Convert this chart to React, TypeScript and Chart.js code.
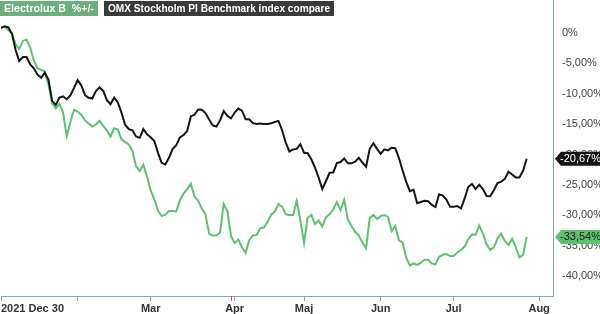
import React, { useEffect, useRef } from "react";
import { Chart, registerables } from "chart.js";
Chart.register(...registerables);

// Trading-day series (index 0 = 2021 Dec 30), % change
const omx = [0.87, 1.12, 0.94, -0.13, -2.8, -4.61, -3.96, -3.95, -5.15, -5.81,
  -6.86, -7.38, -6.53, -7.66, -11.17, -11.84, -10.63, -10.43, -10.89, -10.25,
  -9.03, -7.73, -8.63, -10.23, -10.64, -10.77, -9.56, -8.96, -9.52, -11.05,
  -11.71, -10.63, -11.41, -13.09, -15.08, -15.81, -16.0, -17.02, -17.24, -15.81,
  -16.68, -17.14, -17.76, -19.72, -21.35, -21.63, -20.53, -19.1, -18.47, -17.17,
  -16.79, -16.12, -13.72, -13.45, -12.58, -12.63, -13.17, -14.23, -15.2, -15.39,
  -14.38, -12.85, -13.63, -14.05, -13.08, -12.42, -12.76, -14.19, -14.19, -14.82,
  -14.98, -14.9, -14.97, -14.97, -14.85, -14.65, -14.46, -15.99, -18.03, -19.51,
  -19.16, -19.06, -18.29, -19.69, -19.77, -20.77, -22.12, -23.77, -25.66, -24.38,
  -22.99, -22.94, -21.41, -21.22, -20.64, -21.43, -21.43, -21.15, -20.53, -21.3,
  -21.99, -19.05, -18.14, -19.05, -19.88, -19.13, -19.31, -18.88, -18.95, -20.56,
  -22.62, -24.49, -26.02, -25.81, -27.99, -27.8, -27.6, -27.68, -28.29, -28.63,
  -26.53, -26.74, -27.38, -28.57, -28.57, -28.45, -28.87, -27.2, -25.33, -24.84,
  -25.66, -24.95, -25.66, -26.81, -26.86, -25.86, -24.67, -24.46, -24.0, -22.83,
  -23.27, -23.75, -23.77, -22.66, -20.67];

const electrolux = [0.82, 1.02, 0.49, -0.05, -1.9, -2.6, -1.3, -1.07, -2.4, -4.51,
  -5.79, -6.07, -6.33, -8.45, -11.6, -12.38, -11.64, -13.06, -16.94, -14.64,
  -12.63, -12.91, -13.44, -14.38, -14.9, -15.38, -15.05, -14.44, -15.26, -16.02,
  -17.02, -15.67, -15.89, -17.48, -17.94, -18.31, -19.41, -21.91, -22.68, -21.66,
  -23.63, -25.9, -27.42, -29.21, -30.12, -29.87, -29.29, -29.26, -29.34, -27.55,
  -26.4, -25.74, -24.79, -26.94, -27.6, -28.85, -29.82, -33.01, -33.34, -33.27,
  -32.85, -28.13, -29.28, -33.4, -34.56, -33.95, -35.23, -36.15, -34.08, -33.27,
  -33.24, -32.12, -32.01, -31.1, -29.87, -29.41, -28.14, -28.59, -29.82, -29.93,
  -29.93, -27.62, -30.79, -34.54, -30.39, -29.9, -31.41, -30.82, -31.83, -30.3,
  -29.82, -29.03, -27.8, -29.16, -27.45, -30.63, -31.76, -32.7, -33.31, -34.47,
  -35.41, -30.43, -29.93, -30.58, -30.12, -29.93, -30.26, -32.57, -31.73, -34.1,
  -34.47, -36.94, -38.27, -37.91, -38.14, -37.78, -37.3, -37.3, -37.93, -38.06,
  -36.81, -36.48, -36.37, -36.69, -36.68, -36.09, -35.69, -35.13, -33.91, -33.13,
  -33.16, -31.66, -32.98, -34.77, -35.69, -35.26, -33.82, -33.03, -34.21, -34.87,
  -33.85, -35.2, -36.91, -36.5, -33.54];

const xTickIndex = [0, 21, 41, 64, 83, 104, 124, 147.4, 151.2];
const xTickLabels = ["2021 Dec 30", "", "Mar", "Apr", "Maj", "Jun", "Jul", "Aug", ""];
const yTickValues = [0, -5, -10, -15, -20, -25, -30, -35, -40];
const legendLabels = ["Electrolux B  %+/-", "OMX Stockholm PI Benchmark index compare"];
const eventIndex = 63;

const X_MAX = 151.2;
const Y_MIN = -43.26;
const Y_MAX = 5.43;

const FONT = "'Liberation Sans', Arial, sans-serif";
const AXIS = "#7fa8c4";
const GREEN = "#5cc26e";
const BLACK = "#151515";

function fmt(v: number): string {
  if (v === 0) return "0%";
  return v.toFixed(2).replace(".", ",") + "%";
}

const overlayPlugin = {
  id: "overlay",
  afterDraw(chart: any) {
    const ctx = chart.ctx as CanvasRenderingContext2D;
    const xs = chart.scales.x;
    // event marker on the time axis
    const ex = xs.getPixelForValue(eventIndex);
    ctx.save();
    ctx.strokeStyle = "#e8403a";
    ctx.lineWidth = 1;
    ctx.beginPath();
    ctx.moveTo(Math.round(ex) + 0.5, chart.chartArea.bottom);
    ctx.lineTo(Math.round(ex) + 0.5, chart.chartArea.bottom + 5);
    ctx.stroke();

    // legend boxes
    ctx.font = `bold 11px ${FONT}`;
    ctx.textBaseline = "middle";
    const fills = ["#6aaf7c", "#3a3a3a"];
    const widths = [98, 230];
    let lx = 0;
    legendLabels.forEach((t, i) => {
      const w = widths[i];
      ctx.fillStyle = fills[i];
      ctx.fillRect(lx, 1, w, 15);
      ctx.fillStyle = "#ffffff";
      ctx.textAlign = "left";
      ctx.fillText(t, lx + 4, 9, w - 8);
      lx += w + 6;
    });

    // end value pills
    const pills = [
      { di: 0, bg: BLACK, fg: "#ffffff" },
      { di: 1, bg: GREEN, fg: "#1a1a1a" },
    ];
    pills.forEach(({ di, bg, fg }) => {
      const meta = chart.getDatasetMeta(di);
      const data = chart.data.datasets[di].data;
      const last = meta.data[meta.data.length - 1];
      const y = last.y;
      const val = data[data.length - 1].y;
      const x0 = 555;
      const h = 14;
      ctx.fillStyle = bg;
      ctx.beginPath();
      ctx.moveTo(x0, y);
      ctx.lineTo(x0 + 6, y - h / 2);
      ctx.lineTo(604, y - h / 2);
      ctx.lineTo(604, y + h / 2);
      ctx.lineTo(x0 + 6, y + h / 2);
      ctx.closePath();
      ctx.fill();
      ctx.fillStyle = fg;
      ctx.font = `11px ${FONT}`;
      ctx.textAlign = "left";
      ctx.textBaseline = "middle";
      ctx.fillText(fmt(val), x0 + 5, y + 0.5);
    });
    ctx.restore();
  },
};

export default function App() {
  const ref = useRef<HTMLCanvasElement | null>(null);
  useEffect(() => {
    if (!ref.current) return;
    const chart = new Chart(ref.current, {
      type: "line",
      data: {
        datasets: [
          {
            label: legendLabels[1],
            data: omx.map((v, i) => ({ x: i, y: v })),
            borderColor: BLACK,
            borderWidth: 2,
            pointRadius: 0,
            tension: 0,
            order: 0,
          },
          {
            label: legendLabels[0],
            data: electrolux.map((v, i) => ({ x: i, y: v })),
            borderColor: GREEN,
            borderWidth: 2,
            pointRadius: 0,
            tension: 0,
            order: 1,
          },
        ],
      },
      options: {
        animation: false,
        responsive: false,
        devicePixelRatio: 1,
        layout: { padding: { left: 1, right: 0, top: 0, bottom: 0 } },
        plugins: { legend: { display: false }, tooltip: { enabled: false }, title: { display: false } },
        scales: {
          x: {
            type: "linear",
            min: 0,
            max: X_MAX,
            afterBuildTicks: (s: any) => {
              s.ticks = xTickIndex.map((v) => ({ value: v }));
            },
            afterFit: (s: any) => {
              s.height = 18;
              s.paddingLeft = 0;
              s.paddingRight = 0;
            },
            grid: {
              display: true,
              drawOnChartArea: false,
              drawTicks: true,
              tickLength: 5,
              color: (c: any) => (c.index === xTickIndex.length - 1 ? "rgba(0,0,0,0)" : AXIS),
            },
            border: { display: true, color: AXIS, width: 1 },
            ticks: {
              autoSkip: false,
              maxRotation: 0,
              minRotation: 0,
              align: "inner",
              padding: 1,
              color: "#333333",
              font: { family: FONT, size: 11, weight: "bold" },
              callback: (_v: any, i: number) => xTickLabels[i] ?? "",
            },
          },
          y: {
            position: "right",
            min: Y_MIN,
            max: Y_MAX,
            afterBuildTicks: (s: any) => {
              s.ticks = yTickValues.map((v) => ({ value: v }));
            },
            afterFit: (s: any) => {
              s.width = 47;
              s.paddingTop = 0;
              s.paddingBottom = 0;
            },
            grid: { display: false, drawTicks: false },
            border: { display: true, color: AXIS, width: 1 },
            ticks: {
              padding: 9,
              color: "#444444",
              font: { family: FONT, size: 11 },
              callback: (v: any) => fmt(Number(v)),
            },
          },
        },
      } as any,
      plugins: [overlayPlugin],
    });
    return () => chart.destroy();
  }, []);
  return (
    <div style={{ position: "fixed", left: 0, top: 0, width: 600, height: 314, background: "#ffffff" }}>
      <canvas ref={ref} width={600} height={314} style={{ display: "block" }} />
    </div>
  );
}
